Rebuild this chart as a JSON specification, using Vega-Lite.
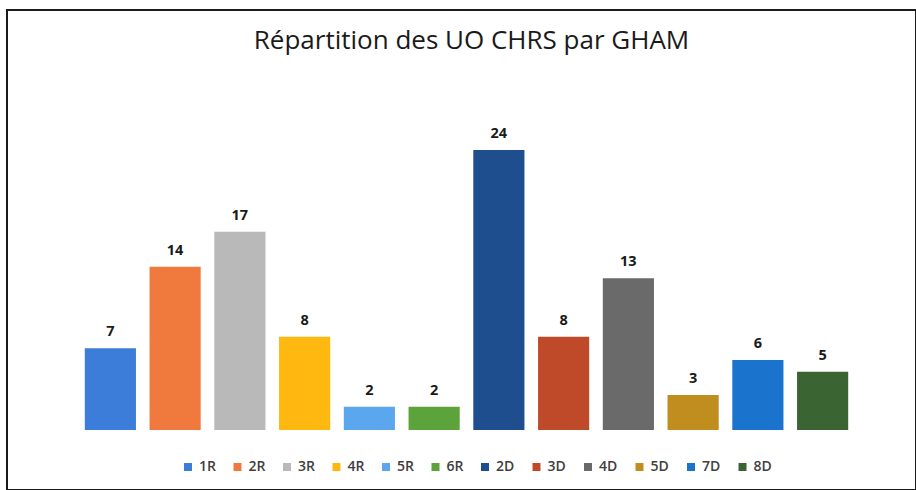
{
  "$schema": "https://vega.github.io/schema/vega-lite/v6.json",
  "width": 909,
  "height": 480,
  "autosize": {"type": "none"},
  "padding": {"left": 7, "top": 10, "right": 0, "bottom": 0},
  "background": "white",
  "config": {
    "font": "Open Sans",
    "view": {"stroke": "#1a1a1a", "strokeWidth": 2},
    "axis": {"disable": true}
  },
  "title": {
    "text": "Répartition des UO CHRS par GHAM",
    "font": "Open Sans",
    "fontSize": 26,
    "fontWeight": "normal",
    "color": "#1a1a1a",
    "anchor": "middle",
    "baseline": "alphabetic",
    "offset": -65,
    "dx": 10
  },
  "data": {
    "values": [
      {"g": "1R", "v": 7},
      {"g": "2R", "v": 14},
      {"g": "3R", "v": 17},
      {"g": "4R", "v": 8},
      {"g": "5R", "v": 2},
      {"g": "6R", "v": 2},
      {"g": "2D", "v": 24},
      {"g": "3D", "v": 8},
      {"g": "4D", "v": 13},
      {"g": "5D", "v": 3},
      {"g": "7D", "v": 6},
      {"g": "8D", "v": 5}
    ]
  },
  "encoding": {
    "x": {
      "field": "g",
      "type": "nominal",
      "sort": null,
      "axis": null,
      "scale": {"paddingInner": 0.21, "paddingOuter": 0.105, "range": [71, 848]}
    },
    "y": {
      "field": "v",
      "type": "quantitative",
      "axis": null,
      "scale": {"domain": [-5.14, 36], "zero": false, "nice": false}
    }
  },
  "layer": [
    {
      "mark": {"type": "bar"},
      "encoding": {
        "y2": {"datum": 0},
        "color": {
          "field": "g",
          "type": "nominal",
          "sort": null,
          "scale": {
            "domain": ["1R", "2R", "3R", "4R", "5R", "6R", "2D", "3D", "4D", "5D", "7D", "8D"],
            "range": ["#3b7dd8", "#f07a3e", "#b9b9b9", "#ffb80f", "#5aa7ee", "#5ba33a", "#1e4e8e", "#bf4a2a", "#6a6a6a", "#c08e1e", "#1a73cc", "#3a6532"]
          },
          "legend": {
            "title": null,
            "orient": "none",
            "direction": "horizontal",
            "legendX": 174,
            "legendY": 450,
            "symbolType": "square",
            "symbolSize": 64,
            "symbolStrokeWidth": 0,
            "labelFont": "Open Sans",
            "labelFontSize": 14,
            "labelFontWeight": 600,
            "labelColor": "#404040",
            "labelOffset": 4,
            "columnPadding": 14.5
          }
        }
      }
    },
    {
      "mark": {"type": "text", "baseline": "bottom", "dy": -9, "fontSize": 14.5, "fontWeight": "bold", "color": "#1a1a1a", "font": "Open Sans"},
      "encoding": {"text": {"field": "v", "type": "quantitative"}}
    }
  ]
}
